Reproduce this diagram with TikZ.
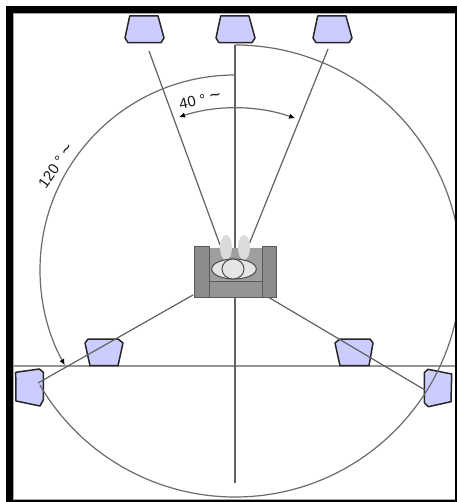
\documentclass[tikz,border=0pt]{standalone}
\usepackage{fontspec}
\setmainfont{Liberation Sans}
\usetikzlibrary{arrows.meta}
\definecolor{spk}{HTML}{CCCCFF}
\newcommand{\bigtilde}{{\fontsize{19}{19}\selectfont\char"7E}}
\tikzset{
  speaker/.style={draw=black!85,fill=spk,line width=1.5pt,line join=round},
  wire/.style={draw=black!62,line width=1.2pt},
  gridline/.style={draw=black!42,line width=1.6pt},
  arcline/.style={draw=black!58,line width=1.2pt},
  tip/.style={-{Latex[length=6pt,width=5.5pt,black]}},
  tips/.style={{Latex[length=6pt,width=5.5pt,black]}-{Latex[length=6pt,width=5.5pt,black]}},
  chairpart/.style={draw=black!65,line width=1pt},
  bodypart/.style={draw=black!70,fill=black!10,line width=1pt},
  anglelabel/.style={font=\fontsize{15}{17}\selectfont,text=black!90,inner sep=0pt}
}
\begin{document}
\begin{tikzpicture}[x=1pt,y=1pt]
\useasboundingbox (0,0) rectangle (457,-502);
\fill[white] (0,0) rectangle (457,-502);
% frame
\fill[black] (6,-6) rectangle (457,-13);
\fill[black] (6,-6) rectangle (13,-502);
\fill[black] (455,-6) rectangle (457,-502);
\fill[black] (6,-500) rectangle (457,-502);
\draw[black!35,line width=1pt] (13.5,-13.5) -- (454.5,-13.5);
\draw[black!35,line width=1pt] (13.5,-13.5) -- (13.5,-499.5) -- (454.5,-499.5);
% axes
\draw[gridline] (13,-365.7) -- (455,-365.7);
% speakers
\draw[speaker] (220.7,-16) -- (249,-16) -- (255,-38) -- (252,-42.7) -- (219,-42.7) -- (216,-38) -- cycle;
\draw[speaker] (129.7,-16) -- (158,-16) -- (164,-38) -- (161,-42.7) -- (128,-42.7) -- (125,-38) -- cycle;
\draw[speaker] (317.7,-16) -- (346,-16) -- (352,-38) -- (349,-42.7) -- (316,-42.7) -- (313,-38) -- cycle;
\draw[speaker] (85,-343) -- (88,-339) -- (118,-339) -- (123,-343) -- (118,-365.7) -- (90,-365.7) -- cycle;
\draw[speaker] (335,-343) -- (340,-339) -- (370,-339) -- (373,-343) -- (369,-365.7) -- (340,-365.7) -- cycle;
\draw[speaker] (15.7,-372.3) -- (39.3,-369) -- (43.3,-372.3) -- (43.3,-400) -- (40,-406) -- (16,-401) -- cycle;
\draw[speaker] (428,-369.3) -- (451.7,-374) -- (451,-401.7) -- (428.3,-406.7) -- (424.3,-402.7) -- (424.3,-372.7) -- cycle;
% axis and wires
\draw[wire] (235,-45) -- (235,-483);
\draw[wire] (149,-51) -- (220,-245);
\draw[wire] (328,-49) -- (249.6,-243);
\draw[wire] (193,-295) -- (38,-383);
\draw[wire] (263,-294) -- (425,-390);
% big arc
\begin{scope}
\clip (13,-13) rectangle (455,-500);
\draw[arcline] (235,-45) arc[start angle=90,end angle=-149.7,radius=226pt];
\end{scope}
% angle arcs
\draw[arcline,tip] (235,-75) arc[start angle=90,end angle=209.2,radius=195pt];
\draw[arcline,tips] (179,-117) arc[start angle=108,end angle=70.8,radius=182pt];
% chair
\fill[black!38] (209,-248) rectangle (263,-282);
\draw[chairpart,fill=black!45] (194,-246) rectangle (209.3,-297.3);
\draw[chairpart,fill=black!45] (262.7,-246) rectangle (276.7,-297.3);
\draw[chairpart,fill=black!42] (209.3,-281.7) rectangle (262.7,-297.3);
% listener
\fill[black!14] (226,-247.5) ellipse[x radius=6pt,y radius=12.5pt];
\fill[black!14] (244,-247.5) ellipse[x radius=6pt,y radius=12.5pt];
\draw[bodypart] (234,-269) ellipse[x radius=22.3pt,y radius=10pt];
\draw[bodypart] (233,-269) ellipse[x radius=11pt,y radius=10pt];
% labels
\node[anglelabel,rotate=12] (a40) at (200,-100) {40 ° \bigtilde};
\node[anglelabel,rotate=55] (a120) at (56,-166) {120 ° \bigtilde};
\end{tikzpicture}
\end{document}
